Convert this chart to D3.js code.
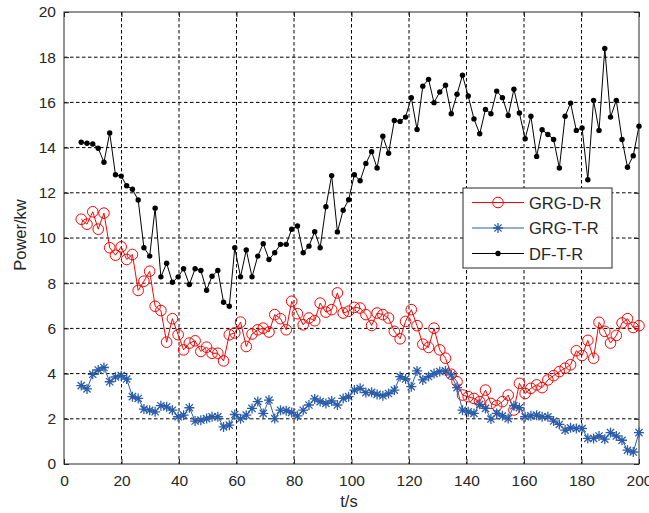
<!DOCTYPE html>
<html>
<head>
<meta charset="utf-8">
<script src="https://cdn.jsdelivr.net/npm/d3@7"></script>
<style>
  body { margin: 0; background: #fff; }
  svg text { font-family: "Liberation Sans", Arial, sans-serif; fill: #262626; }
  .grid { stroke: #000; stroke-width: 1; stroke-dasharray: 3.5,2.5; fill: none; }
</style>
</head>
<body>
<svg id="chart"></svg>
<script>
// sample times (t/s)
const tValues = [6.0, 8.0, 10.0, 11.9, 13.9, 15.9, 17.9, 19.9, 21.8, 23.8,
  25.8, 27.8, 29.8, 31.7, 33.7, 35.7, 37.7, 39.7, 41.6, 43.6,
  45.6, 47.6, 49.6, 51.5, 53.5, 55.5, 57.5, 59.4, 61.4, 63.4,
  65.4, 67.4, 69.3, 71.3, 73.3, 75.3, 77.3, 79.2, 81.2, 83.2,
  85.2, 87.2, 89.1, 91.1, 93.1, 95.1, 97.1, 99.0, 101.0, 103.0,
  105.0, 107.0, 108.9, 110.9, 112.9, 114.9, 116.9, 118.8, 120.8, 122.8,
  124.8, 126.8, 128.7, 130.7, 132.7, 134.7, 136.7, 138.6, 140.6, 142.6,
  144.6, 146.6, 148.5, 150.5, 152.5, 154.5, 156.5, 158.4, 160.4, 162.4,
  164.4, 166.3, 168.3, 170.3, 172.3, 174.3, 176.2, 178.2, 180.2, 182.2,
  184.2, 186.1, 188.1, 190.1, 192.1, 194.1, 196.0, 198.0, 200.0];

const grgDR = [10.83, 10.61, 11.16, 10.39, 11.1, 9.57, 9.24, 9.61, 9.05, 9.27,
  7.68, 8.09, 8.53, 6.98, 6.79, 5.39, 6.43, 5.72, 5.05, 5.35,
  5.45, 4.98, 5.17, 4.9, 4.9, 4.56, 5.72, 5.8, 6.28, 5.2,
  5.75, 5.94, 6.01, 5.84, 6.61, 6.43, 5.94, 7.2, 6.65, 6.16,
  6.46, 6.34, 7.12, 6.72, 6.83, 7.57, 6.68, 6.76, 6.93, 6.9,
  6.61, 6.13, 6.68, 6.61, 6.46, 5.87, 5.54, 6.31, 6.83, 6.12,
  5.3, 5.16, 6.01, 5.05, 4.68, 3.97, 3.64, 3.05, 2.98, 2.9,
  2.76, 3.27, 2.68, 2.58, 2.76, 3.05, 2.39, 3.57, 3.12, 3.35,
  3.5, 3.38, 3.72, 3.91, 4.09, 4.24, 4.39, 5.01, 4.8, 5.47,
  4.68, 6.27, 5.87, 5.35, 5.69, 6.24, 6.43, 6.04, 6.12];

const grgTR = [3.47, 3.32, 3.97, 4.16, 4.27, 3.64, 3.85, 3.91, 3.76, 2.98,
  2.9, 2.43, 2.38, 2.31, 2.58, 2.53, 2.38, 2.09, 2.16, 2.49,
  1.9, 1.94, 2.01, 2.09, 2.09, 1.64, 1.72, 2.19, 2.0, 2.16,
  2.46, 2.76, 2.24, 2.83, 2.01, 2.38, 2.36, 2.28, 2.13, 2.38,
  2.61, 2.88, 2.76, 2.68, 2.79, 2.61, 2.9, 2.98, 3.27, 3.35,
  3.16, 3.17, 3.08, 3.02, 3.12, 3.27, 3.87, 3.76, 3.42, 4.12,
  3.72, 3.87, 4.0, 4.09, 4.12, 3.94, 3.38, 2.38, 2.31, 2.24,
  2.64, 2.46, 1.99, 2.24, 2.13, 2.01, 2.58, 2.49, 2.09, 2.13,
  2.16, 2.09, 2.09, 1.9, 1.75, 1.5, 1.6, 1.57, 1.57, 1.13,
  1.13, 1.24, 1.1, 1.39, 1.24, 1.05, 0.61, 0.53, 1.39];

const dfTR = [14.24, 14.19, 14.16, 13.97, 13.35, 14.65, 12.8, 12.74, 12.31, 12.16,
  11.68, 9.57, 9.2, 11.32, 8.28, 8.88, 8.04, 8.28, 8.64, 7.94,
  8.64, 8.56, 7.69, 8.31, 8.56, 7.16, 6.98, 9.57, 8.28, 9.47,
  8.28, 9.2, 9.75, 9.05, 9.35, 9.72, 9.72, 10.39, 10.53, 9.35,
  9.64, 10.28, 9.57, 11.38, 12.76, 10.27, 11.23, 11.69, 12.8, 12.53,
  13.3, 13.82, 13.1, 14.5, 13.75, 15.2, 15.16, 15.35, 16.21, 14.8,
  16.72, 17.02, 15.99, 16.46, 16.76, 15.5, 16.36, 17.2, 16.28, 15.27,
  14.61, 15.69, 15.5, 16.5, 16.21, 15.42, 16.58, 15.53, 14.39, 15.39,
  13.61, 14.79, 14.58, 14.36, 13.1, 15.39, 15.97, 14.76, 14.87, 12.58,
  16.09, 14.76, 18.39, 15.35, 16.09, 14.36, 13.13, 13.64, 14.95];

const xTicks = [0, 20, 40, 60, 80, 100, 120, 140, 160, 180, 200];
const yTicks = [0, 2, 4, 6, 8, 10, 12, 14, 16, 18, 20];
const seriesNames = ["GRG-D-R", "GRG-T-R", "DF-T-R"];

const W = 649, H = 513;
const plotL = 64, plotR = 639, plotT = 12, plotB = 464;

let svg = d3.select("#chart").attr("width", W).attr("height", H);
svg.append("rect").attr("width", W).attr("height", H).attr("fill", "#fff");

let x = d3.scaleLinear().domain([0, 200]).range([plotL, plotR]);
let y = d3.scaleLinear().domain([0, 20]).range([plotB, plotT]);

// dashed grid
svg.selectAll(".gx").data(xTicks.slice(1, -1)).enter().append("line")
  .attr("class", "grid")
  .attr("x1", d => x(d)).attr("x2", d => x(d))
  .attr("y1", plotT).attr("y2", plotB);
svg.selectAll(".gy").data(yTicks.slice(1, -1)).enter().append("line")
  .attr("class", "grid")
  .attr("x1", plotL).attr("x2", plotR)
  .attr("y1", d => y(d)).attr("y2", d => y(d));

// axes (ticks inside, box on)
let axisStyle = g => {
  g.select(".domain").remove();
  g.selectAll("line").attr("stroke", "#262626");
  g.selectAll("text").attr("font-size", "15.5px").attr("fill", "#262626")
    .attr("font-family", "Liberation Sans, Arial, sans-serif");
};
svg.append("g").attr("transform", `translate(0,${plotB})`)
  .call(d3.axisBottom(x).tickValues(xTicks).tickSizeInner(-5).tickSizeOuter(0).tickPadding(11))
  .call(axisStyle);
svg.append("g").attr("transform", `translate(0,${plotT})`)
  .call(d3.axisTop(x).tickValues(xTicks).tickSizeInner(-5).tickSizeOuter(0).tickFormat(""))
  .call(axisStyle);
svg.append("g").attr("transform", `translate(${plotL},0)`)
  .call(d3.axisLeft(y).tickValues(yTicks).tickSizeInner(-5).tickSizeOuter(0).tickPadding(8))
  .call(axisStyle);
svg.append("g").attr("transform", `translate(${plotR},0)`)
  .call(d3.axisRight(y).tickValues(yTicks).tickSizeInner(-5).tickSizeOuter(0).tickFormat(""))
  .call(axisStyle);

svg.append("rect")
  .attr("x", plotL).attr("y", plotT)
  .attr("width", plotR - plotL).attr("height", plotB - plotT)
  .attr("fill", "none").attr("stroke", "#262626").attr("stroke-width", 1);

// axis labels
svg.append("text").attr("x", 349).attr("y", 507)
  .attr("text-anchor", "middle").attr("font-size", "16.5px").text("t/s");
svg.append("text")
  .attr("transform", "translate(26,235) rotate(-90)")
  .attr("text-anchor", "middle").attr("font-size", "16.5px").text("Power/kw");

// markers
function drawCircle(g, cx, cy, color) {
  g.append("circle").attr("cx", cx).attr("cy", cy).attr("r", 5.3)
    .attr("fill", "none").attr("stroke", color).attr("stroke-width", 1);
}
function drawStar(g, cx, cy, color) {
  let s = 5, d = 3.6;
  g.append("path")
    .attr("d", `M${cx - s},${cy}H${cx + s}M${cx},${cy - s}V${cy + s}` +
      `M${cx - d},${cy - d}L${cx + d},${cy + d}M${cx - d},${cy + d}L${cx + d},${cy - d}`)
    .attr("stroke", color).attr("stroke-width", 1.3).attr("fill", "none");
}
function drawDot(g, cx, cy, color) {
  g.append("circle").attr("cx", cx).attr("cy", cy).attr("r", 2.7).attr("fill", color);
}

const series = [
  { name: seriesNames[0], values: grgDR, color: "#ff0000", marker: drawCircle },
  { name: seriesNames[1], values: grgTR, color: "#2a5caa", marker: drawStar },
  { name: seriesNames[2], values: dfTR, color: "#000000", marker: drawDot }
];

let line = d3.line()
  .x((d, i) => x(tValues[i]))
  .y(d => y(d));

series.forEach(s => {
  let g = svg.append("g");
  g.append("path").datum(s.values)
    .attr("d", line).attr("fill", "none")
    .attr("stroke", s.color).attr("stroke-width", 1);
  s.values.forEach((v, i) => s.marker(g, x(tValues[i]), y(v), s.color));
});

// legend
let lg = svg.append("g");
lg.append("rect").attr("x", 463).attr("y", 188).attr("width", 149).attr("height", 80)
  .attr("fill", "#fff").attr("stroke", "#262626").attr("stroke-width", 1);
series.forEach((s, i) => {
  let cy = 202.5 + i * 25.5;
  lg.append("line").attr("x1", 472).attr("x2", 524).attr("y1", cy).attr("y2", cy)
    .attr("stroke", s.color).attr("stroke-width", 1);
  s.marker(lg, 498, cy, s.color);
  lg.append("text").attr("x", 529).attr("y", cy + 6)
    .attr("font-size", "16.5px").text(s.name);
});
</script>
</body>
</html>
